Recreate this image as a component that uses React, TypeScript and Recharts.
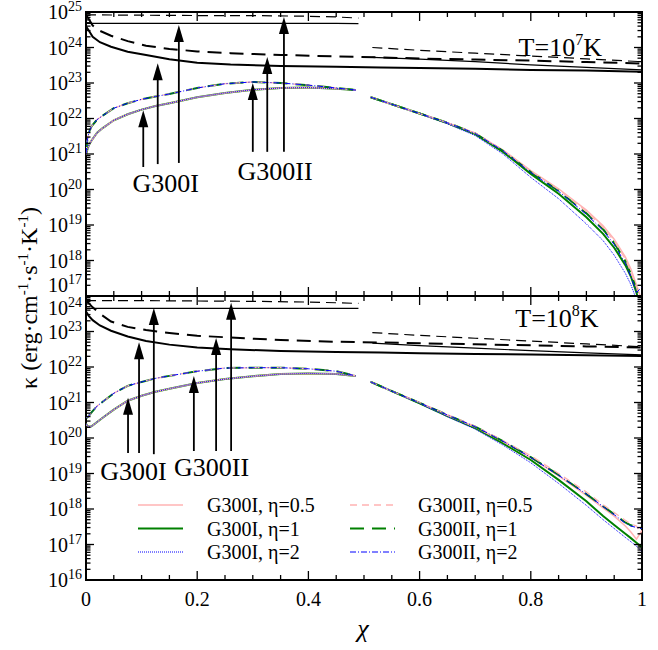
import React from 'react';
import { LineChart, Line, XAxis, YAxis, ReferenceLine, ReferenceDot, ReferenceArea, Legend } from 'recharts';

const SERIF = '"Liberation Serif", "Times New Roman", serif';

// ---------- x grids ----------
const chiL = [0, 0.002, 0.005, 0.01, 0.02, 0.03, 0.05, 0.075, 0.1, 0.125, 0.15, 0.2, 0.25, 0.3, 0.35, 0.4, 0.45, 0.485];
const chiR = [0.512, 0.55, 0.6, 0.65, 0.7, 0.75, 0.8, 0.85, 0.9, 0.93, 0.95, 0.97, 0.98, 0.99, 1.0];
const chiB = [0, 0.005, 0.012, 0.025, 0.045, 0.075, 0.108, 0.15, 0.2, 0.26, 0.35, 0.45, 0.53, 0.6, 0.7, 0.8, 0.9, 1.0];
const chiTL = [0, 0.1, 0.2, 0.3, 0.4, 0.45, 0.49];
const chiTR = [0.515, 0.6, 0.7, 0.8, 0.9, 1.0];
const xTicks = [0, 0.05, 0.1, 0.15, 0.2, 0.25, 0.3, 0.35, 0.4, 0.45, 0.5, 0.55, 0.6, 0.65, 0.7, 0.75, 0.8, 0.85, 0.9, 0.95, 1];

// ---------- top panel, T = 1e7 K ----------
const topI_left = [8.9e20, 1.26e21, 1.78e21, 2.4e21, 3.98e21, 5.37e21, 8.91e21, 1.32e22, 1.78e22, 2.24e22, 2.69e22, 3.98e22, 5.25e22, 6.46e22, 7.24e22, 7.41e22, 6.92e22, 6.31e22];
const topII_left = [1.0e21, 2.24e21, 3.98e21, 6.03e21, 9.33e21, 1.2e22, 1.95e22, 2.69e22, 3.47e22, 4.17e22, 4.9e22, 7.24e22, 9.55e22, 1.07e23, 1.0e23, 8.71e22, 7.24e22, 6.31e22];
const topI05_right = [3.98e22, 2.51e22, 1.38e22, 7.59e21, 3.89e21, 1.29e21, 3.39e20, 1.05e20, 2.63e19, 9.55e18, 3.98e18, 1.26e18, 5.75e17, 2.09e17, 7.08e16];
const topI1_right = [3.98e22, 2.51e22, 1.38e22, 7.41e21, 3.63e21, 1.15e21, 2.75e20, 7.59e19, 1.66e19, 5.62e18, 2.29e18, 7.41e17, 3.55e17, 1.26e17, 3.16e16];
const topI2_right = [3.98e22, 2.51e22, 1.35e22, 7.08e21, 3.31e21, 1.0e21, 2.19e20, 5.5e19, 1.07e19, 3.63e18, 1.41e18, 4.37e17, 2.09e17, 7.94e16, 2.51e16];
const topII05_right = [3.98e22, 2.51e22, 1.38e22, 7.59e21, 3.89e21, 1.29e21, 3.31e20, 1.0e20, 2.4e19, 8.51e18, 3.55e18, 1.1e18, 4.79e17, 1.78e17, 5.01e16];
const topII1_right = [3.98e22, 2.51e22, 1.38e22, 7.59e21, 3.8e21, 1.23e21, 3.09e20, 9.12e19, 2.14e19, 7.59e18, 3.16e18, 9.55e17, 4.17e17, 1.58e17, 3.98e16];
const topII2_right = [3.98e22, 2.51e22, 1.38e22, 7.59e21, 3.8e21, 1.23e21, 3.02e20, 8.91e19, 2.0e19, 7.08e18, 2.82e18, 8.32e17, 3.55e17, 1.26e17, 1.78e17];
const topThickSolid = [3.98e24, 3.02e24, 2.0e24, 1.41e24, 1.05e24, 7.59e23, 6.17e23, 4.68e23, 3.72e23, 3.31e23, 3.02e23, 2.88e23, 2.75e23, 2.63e23, 2.51e23, 2.34e23, 2.24e23, 2.09e23];
const topThickDashed = [8.32e24, 6.31e24, 4.17e24, 2.95e24, 2.14e24, 1.51e24, 1.12e24, 9.12e23, 7.76e23, 6.92e23, 6.17e23, 5.62e23, 5.25e23, 4.9e23, 4.57e23, 4.27e23, 3.89e23, 3.55e23];
const topThinSolid_left = [4.79e24, 4.79e24, 4.79e24, 4.79e24, 4.79e24, 4.79e24, 4.7e24];
const topThinSolid_right = [5.25e23, 4.68e23, 3.98e23, 3.24e23, 2.75e23, 2.34e23];
const topThinDashed_left = [8.32e24, 8.13e24, 7.94e24, 7.94e24, 7.59e24, 7.24e24, 6.76e24];
const topThinDashed_right = [1.0e24, 8.32e23, 6.92e23, 5.75e23, 4.79e23, 3.98e23];

// ---------- bottom panel, T = 1e8 K ----------
const botI_left = [2.51e20, 2.24e20, 2.09e20, 2.14e20, 2.82e20, 3.72e20, 6.31e20, 1.12e21, 1.55e21, 2.0e21, 2.45e21, 3.55e21, 4.57e21, 5.5e21, 6.31e21, 6.61e21, 6.31e21, 5.62e21];
const botII_left = [3.98e20, 3.8e20, 4.17e20, 5.25e20, 7.94e20, 1.05e21, 1.82e21, 2.95e21, 3.8e21, 4.79e21, 5.62e21, 7.59e21, 9.33e21, 9.55e21, 9.55e21, 8.91e21, 7.59e21, 5.62e21];
const botI05_right = [3.8e21, 2.09e21, 9.77e20, 4.37e20, 2.04e20, 7.94e19, 2.82e19, 8.51e18, 2.4e18, 1.07e18, 6.31e17, 3.31e17, 2.24e17, 1.41e17, 2.51e17];
const botI1_right = [3.8e21, 2.09e21, 9.55e20, 4.17e20, 1.91e20, 7.08e19, 2.4e19, 6.61e18, 1.66e18, 6.31e17, 3.55e17, 2.0e17, 1.51e17, 1.12e17, 8.32e16];
const botI2_right = [3.8e21, 2.09e21, 9.33e20, 3.98e20, 1.78e20, 6.31e19, 2.0e19, 5.25e18, 1.26e18, 5.01e17, 2.82e17, 1.58e17, 1.2e17, 8.91e16, 6.31e16];
const botII05_right = [3.8e21, 2.09e21, 1.0e21, 4.57e20, 2.14e20, 8.51e19, 3.16e19, 1.0e19, 3.02e18, 1.32e18, 7.94e17, 4.79e17, 3.8e17, 3.31e17, 2.0e17];
const botII1_right = [3.8e21, 2.09e21, 9.77e20, 4.47e20, 2.09e20, 8.13e19, 2.88e19, 9.12e18, 2.63e18, 1.2e18, 7.08e17, 4.17e17, 3.47e17, 3.16e17, 2.88e17];
const botII2_right = [3.8e21, 2.09e21, 9.77e20, 4.47e20, 2.09e20, 8.13e19, 2.82e19, 8.91e18, 2.63e18, 1.17e18, 6.92e17, 3.98e17, 3.31e17, 3.02e17, 2.82e17];
const botThickSolid = [3.63e23, 2.75e23, 2.09e23, 1.48e23, 1.05e23, 7.24e22, 5.37e22, 4.27e22, 3.55e22, 3.16e22, 2.82e22, 2.63e22, 2.57e22, 2.45e22, 2.34e22, 2.24e22, 2.14e22, 2.04e22];
const botThickDashed = [7.41e23, 6.31e23, 4.79e23, 3.16e23, 1.91e23, 1.35e23, 1.1e23, 9.12e22, 7.59e22, 6.76e22, 5.75e22, 5.13e22, 4.9e22, 4.68e22, 4.37e22, 4.07e22, 3.8e22, 3.55e22];
const botThinSolid_left = [4.47e23, 4.47e23, 4.47e23, 4.47e23, 4.47e23, 4.47e23, 4.47e23];
const botThinSolid_right = [4.68e22, 3.98e22, 3.39e22, 2.88e22, 2.51e22, 2.19e22];
const botThinDashed_left = [7.41e23, 7.41e23, 7.24e23, 7.08e23, 6.76e23, 6.46e23, 6.17e23];
const botThinDashed_right = [9.33e22, 7.76e22, 6.46e22, 5.37e22, 4.47e22, 3.72e22];

// ---------- annotations (data coordinates) ----------
const arrowsTop = [
  { x: 0.103, from: 4.3e20, to: 1.7e22 },
  { x: 0.129, from: 5.2e20, to: 3.6e23 },
  { x: 0.167, from: 5.6e20, to: 4.3e24 },
  { x: 0.300, from: 1.15e21, to: 1.0e23 },
  { x: 0.326, from: 1.15e21, to: 5.4e23 },
  { x: 0.356, from: 1.15e21, to: 7.2e24 },
];
const arrowsBot = [
  { x: 0.0756, from: 3.8e19, to: 1.35e21 },
  { x: 0.0954, from: 3.8e19, to: 5.0e22 },
  { x: 0.122, from: 3.5e19, to: 4.6e23 },
  { x: 0.194, from: 4.3e19, to: 5.6e21 },
  { x: 0.234, from: 4.3e19, to: 6.6e22 },
  { x: 0.261, from: 4.3e19, to: 6.5e23 },
];
const labelsTop = [
  { text: 'G300I', x: 0.1435, y: 8.5e19 },
  { text: 'G300II', x: 0.34, y: 1.86e20 },
];
const labelsBot = [
  { text: 'G300I', x: 0.0855, y: 6.6e18 },
  { text: 'G300II', x: 0.226, y: 8.5e18 },
];

// ---------- styles ----------
const PLOT_W = 556;
const PLOT_H = 284;
type Style = { name: string; stroke: string; width: number; dash?: string };
const colorStyles: Style[] = [
  { name: 'G300I, η=0.5', stroke: '#ffb3b3', width: 1.5 },
  { name: 'G300I, η=1', stroke: '#008000', width: 2 },
  { name: 'G300I, η=2', stroke: '#0000ff', width: 1, dash: '1 1' },
  { name: 'G300II, η=0.5', stroke: '#ffb3b3', width: 1.3, dash: '7 5' },
  { name: 'G300II, η=1', stroke: '#008000', width: 2, dash: '14 8' },
  { name: 'G300II, η=2', stroke: '#0000ff', width: 1, dash: '6 2 1 2' },
];

type Pt = { x: number; k: number | null };
const pts = (xs: number[], ys: number[]): Pt[] => xs.map((x, i) => ({ x, k: ys[i] }));
const join = (a: Pt[], b: Pt[]): Pt[] => [...a, { x: (a[a.length - 1].x + b[0].x) / 2, k: null }, ...b];

const logTicks = (lo: number, hi: number) => {
  const out: number[] = [];
  for (let e = lo; e < hi; e++) for (let m = 1; m <= 9; m++) out.push(Number(`${m}e${e}`));
  out.push(Number(`1e${hi}`));
  return out;
};

const YTick = (props: any) => {
  const { x, y, payload, shifts } = props;
  const v = payload.value as number;
  const lg = Math.log10(v);
  const e = Math.round(lg);
  const major = Math.abs(lg - e) < 1e-6;
  const len = major ? 8 : 4.5;
  const shift = (shifts && shifts[e]) || 0;
  return (
    <g>
      <line x1={x} x2={x + len} y1={y} y2={y} stroke="#000" strokeWidth={1.3} />
      <line x1={x + PLOT_W} x2={x + PLOT_W - len} y1={y} y2={y} stroke="#000" strokeWidth={1.3} />
      {major && (
        <text x={x - 4} y={y + 7 + shift} textAnchor="end" fontFamily={SERIF} fontSize={20} fill="#000">
          10<tspan dy={-8} fontSize={14}>{e}</tspan>
        </text>
      )}
    </g>
  );
};

const XTick = (props: any) => {
  const { x, y, payload, showLabel } = props;
  const v = payload.value as number;
  const major = Math.abs(v * 5 - Math.round(v * 5)) < 1e-6;
  const len = major ? 9 : 5;
  const lbl = v === 0 ? '0' : v === 1 ? '1' : v.toFixed(1);
  return (
    <g>
      <line x1={x} x2={x} y1={y} y2={y - len} stroke="#000" strokeWidth={1.3} />
      <line x1={x} x2={x} y1={y - PLOT_H} y2={y - PLOT_H + len} stroke="#000" strokeWidth={1.3} />
      {showLabel && major && (
        <text x={x} y={y + 26} textAnchor="middle" fontFamily={SERIF} fontSize={20} fill="#000">{lbl}</text>
      )}
    </g>
  );
};

const ArrowShape = (p: any) => {
  const { x1, y1, x2, y2 } = p;
  return (
    <g>
      <line x1={x1} y1={y1} x2={x2} y2={y2 + 12} stroke="#000" strokeWidth={1.8} />
      <polygon points={`${x2},${y2} ${x2 - 5},${y2 + 17} ${x2 + 5},${y2 + 17}`} fill="#000" />
    </g>
  );
};

const LegendBox = () => (
  <svg width={430} height={80} style={{ overflow: 'visible' }}>
    {colorStyles.map((s, i) => {
      const col = i < 3 ? 0 : 1;
      const row = i % 3;
      const lx = col === 0 ? 8 : 220;
      const tx = col === 0 ? 77 : 288;
      const cy = 15 + row * 23.5;
      return (
        <g key={s.name}>
          <line x1={lx} x2={lx + 45} y1={cy} y2={cy} stroke={s.stroke} strokeWidth={s.width} strokeDasharray={s.dash} />
          <text x={tx} y={cy + 7} fontFamily={SERIF} fontSize={20} fill="#000">{s.name}</text>
        </g>
      );
    })}
  </svg>
);

type PanelProps = {
  height: number;
  marginTop: number;
  xAxisHeight: number;
  domain: [number, number];
  yTicks: number[];
  shifts: Record<number, number>;
  showXLabels: boolean;
  colored: { left: number[]; right: number[] }[];
  thickSolid: number[];
  thickDashed: number[];
  thinSolid: [number[], number[]];
  thinDashed: [number[], number[]];
  arrows: { x: number; from: number; to: number }[];
  labels: { text: string; x: number; y: number }[];
  tLabel: { exp: string; x: number; y: number };
  legend: boolean;
};

function Panel(p: PanelProps) {
  const black = [
    { d: pts(chiB, p.thickSolid), w: 2, dash: undefined },
    { d: pts(chiB, p.thickDashed), w: 2, dash: '14 8' },
    { d: join(pts(chiTL, p.thinSolid[0]), pts(chiTR, p.thinSolid[1])), w: 1.2, dash: undefined },
    { d: join(pts(chiTL, p.thinDashed[0]), pts(chiTR, p.thinDashed[1])), w: 1.2, dash: '10 6' },
  ];
  const order = [1, 0, 2, 4, 3, 5];
  return (
    <LineChart width={658} height={p.height} margin={{ top: p.marginTop, right: 16, bottom: 0, left: 26 }}>
      <XAxis dataKey="x" type="number" domain={[0, 1]} ticks={xTicks} interval={0} height={p.xAxisHeight}
        tickSize={0} tickMargin={0} axisLine={false} tickLine={false} allowDataOverflow
        tick={(tp: any) => <XTick {...tp} showLabel={p.showXLabels} />} />
      <YAxis type="number" scale="log" domain={p.domain} ticks={p.yTicks} interval={0} width={60}
        tickSize={0} tickMargin={0} axisLine={false} tickLine={false} allowDataOverflow
        tick={(tp: any) => <YTick {...tp} shifts={p.shifts} />} />
      {black.map((b, i) => (
        <Line key={`b${i}`} data={b.d} dataKey="k" type="linear" stroke="#000" strokeWidth={b.w}
          strokeDasharray={b.dash} dot={false} activeDot={false} isAnimationActive={false} legendType="none" connectNulls={false} />
      ))}
      {order.map((i) => {
        const s = colorStyles[i];
        const c = p.colored[i];
        return (
          <Line key={`c${i}`} name={s.name} data={join(pts(chiL, c.left), pts(chiR, c.right))} dataKey="k" type="linear"
            stroke={s.stroke} strokeWidth={s.width} strokeDasharray={s.dash} dot={false} activeDot={false}
            isAnimationActive={false} connectNulls={false} />
        );
      })}
      <ReferenceArea x1={0} x2={1} y1={p.domain[0]} y2={p.domain[1]} fill="none" stroke="#000" strokeWidth={2} />
      {p.arrows.map((a, i) => (
        <ReferenceLine key={`a${i}`} segment={[{ x: a.x, y: a.from }, { x: a.x, y: a.to }]} shape={ArrowShape} />
      ))}
      {p.labels.map((l, i) => (
        <ReferenceDot key={`l${i}`} x={l.x} y={l.y} r={0}
          shape={(sp: any) => (
            <text x={sp.cx} y={sp.cy} textAnchor="middle" fontFamily={SERIF} fontSize={26} fill="#000">{l.text}</text>
          )} />
      ))}
      <ReferenceDot x={p.tLabel.x} y={p.tLabel.y} r={0}
        shape={(sp: any) => (
          <text x={sp.cx} y={sp.cy} textAnchor="middle" fontFamily={SERIF} fontSize={26} fill="#000">
            T=10<tspan dy={-11} fontSize={16}>{p.tLabel.exp}</tspan><tspan dy={11}>K</tspan>
          </text>
        )} />
      {p.legend && (
        <Legend content={LegendBox} verticalAlign="middle" align="center" layout="horizontal"
          wrapperStyle={{ position: 'absolute', left: 130, top: 200, width: 430, height: 80 }} />
      )}
    </LineChart>
  );
}

export default function App() {
  return (
    <div style={{ position: 'absolute', left: 0, top: 0, width: 658, height: 650, background: '#fff' }}>
      <div style={{ position: 'absolute', left: 0, top: 0 }}>
        <Panel
          height={300} marginTop={12} xAxisHeight={4}
          domain={[1e17, 1e25]} yTicks={logTicks(17, 25)} shifts={{ 17: -11 }} showXLabels={false}
          colored={[
            { left: topI_left, right: topI05_right },
            { left: topI_left, right: topI1_right },
            { left: topI_left, right: topI2_right },
            { left: topII_left, right: topII05_right },
            { left: topII_left, right: topII1_right },
            { left: topII_left, right: topII2_right },
          ]}
          thickSolid={topThickSolid} thickDashed={topThickDashed}
          thinSolid={[topThinSolid_left, topThinSolid_right]}
          thinDashed={[topThinDashed_left, topThinDashed_right]}
          arrows={arrowsTop} labels={labelsTop}
          tLabel={{ exp: '7', x: 0.853, y: 5.75e23 }}
          legend={false}
        />
      </div>
      <div style={{ position: 'absolute', left: 0, top: 290 }}>
        <Panel
          height={360} marginTop={6} xAxisHeight={70}
          domain={[1e16, 1e24]} yTicks={logTicks(16, 24)} shifts={{ 24: 12 }} showXLabels={true}
          colored={[
            { left: botI_left, right: botI05_right },
            { left: botI_left, right: botI1_right },
            { left: botI_left, right: botI2_right },
            { left: botII_left, right: botII05_right },
            { left: botII_left, right: botII1_right },
            { left: botII_left, right: botII2_right },
          ]}
          thickSolid={botThickSolid} thickDashed={botThickDashed}
          thinSolid={[botThinSolid_left, botThinSolid_right]}
          thinDashed={[botThinDashed_left, botThinDashed_right]}
          arrows={arrowsBot} labels={labelsBot}
          tLabel={{ exp: '8', x: 0.847, y: 1.35e23 }}
          legend={true}
        />
      </div>
      <svg width={658} height={650} style={{ position: 'absolute', left: 0, top: 0, pointerEvents: 'none' }}>
        <text transform="rotate(-90)" x={-298} y={37} textAnchor="middle" fontFamily={SERIF} fontSize={24} fill="#000">
          κ (erg·cm<tspan dy={-9} fontSize={15}>-1</tspan><tspan dy={9}>·s</tspan><tspan dy={-9} fontSize={15}>-1</tspan><tspan dy={9}>·K</tspan><tspan dy={-9} fontSize={15}>-1</tspan><tspan dy={9}>)</tspan>
        </text>
        <text x={363} y={637} textAnchor="middle" fontFamily={SERIF} fontStyle="italic" fontSize={26} fill="#000">χ</text>
      </svg>
    </div>
  );
}
